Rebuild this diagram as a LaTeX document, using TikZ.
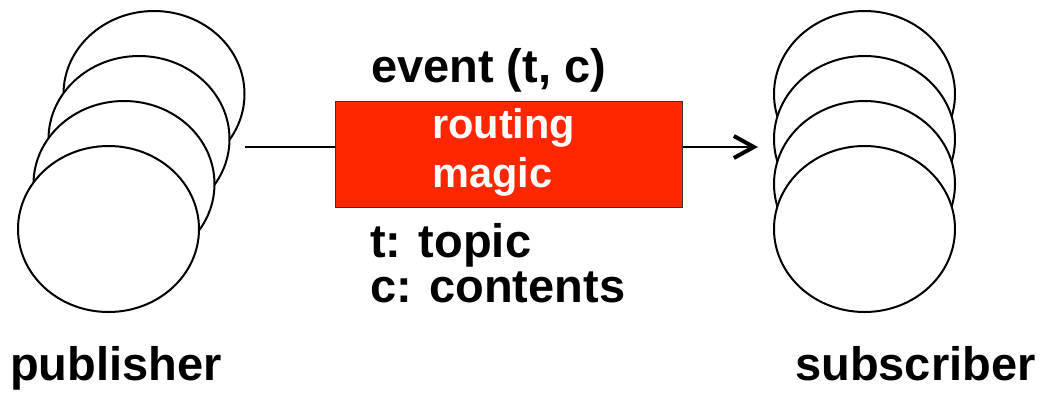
\documentclass[tikz,border=0pt]{standalone}
\usepackage{fontspec}
\setmainfont{Liberation Sans}
\usetikzlibrary{shapes.geometric,arrows.meta}
\definecolor{boxred}{HTML}{FF2600}
\begin{document}
\begin{tikzpicture}[x=1pt,y=-1pt,
  blob/.style={ellipse, draw=black, line width=2pt, fill=white, minimum width=181pt, minimum height=166pt, inner sep=0pt},
  lbl/.style={anchor=base west, inner sep=0pt, font=\fontsize{47}{47}\selectfont\bfseries},
  wlbl/.style={anchor=base west, inner sep=0pt, text=white, font=\fontsize{41.5}{41.5}\selectfont\bfseries},
  magicbox/.style={rectangle, draw=black!80, line width=1pt, fill=boxred, minimum width=347pt, minimum height=106pt, inner sep=0pt},
  conn/.style={line width=2pt}]
\useasboundingbox (0,0) rectangle (1044,394);
% publisher stack
\node[blob] (p1) at (154,94) {};
\node[blob] (p2) at (139,139) {};
\node[blob] (p3) at (124,184) {};
\node[blob] (p4) at (108.5,229) {};
% subscriber stack
\node[blob] (s1) at (864.5,94) {};
\node[blob] (s2) at (864.5,139) {};
\node[blob] (s3) at (864.5,184) {};
\node[blob] (s4) at (864.5,229) {};
% routing box
\node[magicbox] (box) at (509,154) {};
\node[wlbl] (r1) at (432,138) {routing};
\node[wlbl] (r2) at (432,187) {magic};
% connectors
\coordinate (start) at (245,147);
\coordinate (tip) at (758,147);
\draw[conn] (start) -- (start -| box.west);
\draw[conn, -{Straight Barb[length=20pt, width=22pt, line width=4pt]}] (start -| box.east) -- (tip);
% labels
\node[lbl] (ev) at (371,82) {event (t, c)};
\node[lbl] (tt) at (370,257) {t: topic};
\node[lbl] (cc) at (370,302) {c: contents};
\node[lbl] (pub) at (10,380) {publisher};
\node[lbl] (sub) at (795,380) {subscriber};
\end{tikzpicture}
\end{document}
